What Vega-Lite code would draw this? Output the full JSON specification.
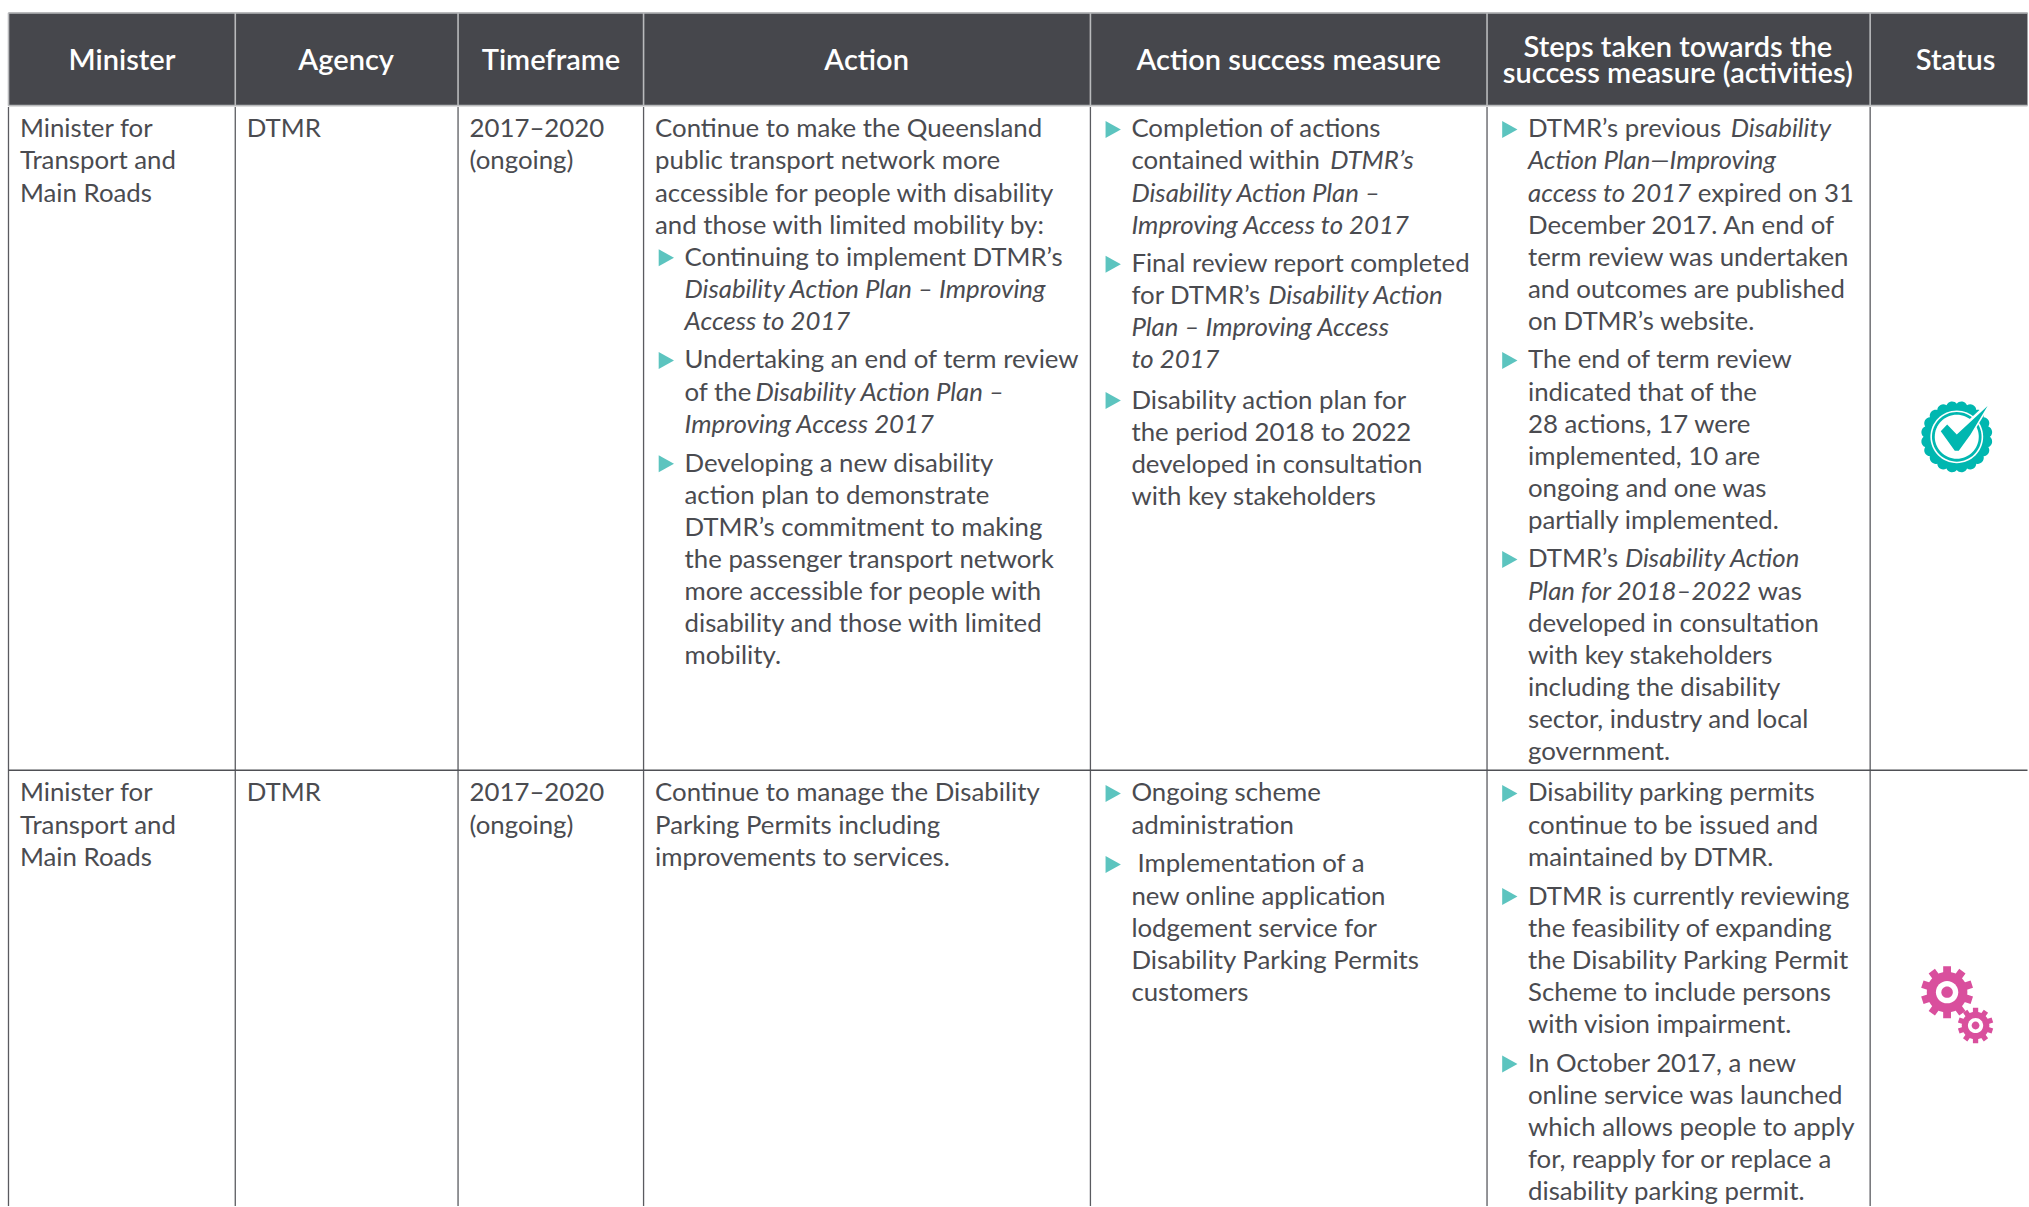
{"$schema":"https://vega.github.io/schema/vega-lite/v6.json","width":2029,"height":1207,"autosize":{"type":"fit","contains":"padding"},"padding":0,"background":"white","config":{"view":{"stroke":null},"axis":{"disable":true}},
"datasets":{"columns":[{"col":"Minister","left":8,"center":121.6},{"col":"Agency","left":235,"center":346},{"col":"Timeframe","left":458,"center":551},{"col":"Action","left":643.7,"center":867},{"col":"Measure","left":1091,"center":1289.5},{"col":"Steps","left":1488,"center":1679},{"col":"Status","left":1871.5,"center":1957}],
"cells":[
{"kind":"head","col":"Minister","tab":"center","line":-2.1,"text":"Minister"},{"kind":"head","col":"Agency","tab":"center","line":-2.1,"text":"Agency"},{"kind":"head","col":"Timeframe","tab":"center","line":-2.1,"text":"Timeframe"},{"kind":"head","col":"Action","tab":"center","line":-2.1,"text":"Action"},{"kind":"head","col":"Measure","tab":"center","line":-2.1,"text":"Action success measure"},{"kind":"head","col":"Steps","tab":"center","line":-2.51,"text":"Steps taken towards the"},{"kind":"head","col":"Steps","tab":"center","line":-1.7,"text":"success measure (activities)"},{"kind":"head","col":"Status","tab":"center","line":-2.1,"text":"Status"},
{"kind":"roman","col":"Minister","tab":"cell","line":0,"text":"Minister for"},{"kind":"roman","col":"Minister","tab":"cell","line":1,"text":"Transport and"},{"kind":"roman","col":"Minister","tab":"cell","line":2,"text":"Main Roads"},
{"kind":"roman","col":"Agency","tab":"cell","line":0,"text":"DTMR"},
{"kind":"roman","col":"Timeframe","tab":"cell","line":0,"text":"2017–2020"},{"kind":"roman","col":"Timeframe","tab":"cell","line":1,"text":"(ongoing)"},
{"kind":"roman","col":"Action","tab":"cell","line":0,"text":"Continue to make the Queensland"},{"kind":"roman","col":"Action","tab":"cell","line":1,"text":"public transport network more"},{"kind":"roman","col":"Action","tab":"cell","line":2,"text":"accessible for people with disability"},{"kind":"roman","col":"Action","tab":"cell","line":3,"text":"and those with limited mobility by:"},
{"kind":"bullet","col":"Action","tab":"bullet","line":4},{"kind":"roman","col":"Action","tab":"text","line":4,"text":"Continuing to implement DTMR’s"},{"kind":"italic","col":"Action","tab":"text","line":5,"text":"Disability Action Plan  – Improving"},{"kind":"italic","col":"Action","tab":"text","line":6,"text":"Access to 2017"},
{"kind":"bullet","col":"Action","tab":"bullet","line":7.2},{"kind":"roman","col":"Action","tab":"text","line":7.2,"text":"Undertaking an end of term review"},{"kind":"roman","col":"Action","tab":"text","line":8.2,"text":"of the"},{"kind":"italic","col":"Action","tab":"text","lead":71,"line":8.2,"text":"Disability Action Plan –"},{"kind":"italic","col":"Action","tab":"text","line":9.2,"text":"Improving Access 2017"},
{"kind":"bullet","col":"Action","tab":"bullet","line":10.42},{"kind":"roman","col":"Action","tab":"text","line":10.42,"text":"Developing a new disability"},{"kind":"roman","col":"Action","tab":"text","line":11.42,"text":"action plan to demonstrate"},{"kind":"roman","col":"Action","tab":"text","line":12.42,"text":"DTMR’s commitment to making"},{"kind":"roman","col":"Action","tab":"text","line":13.42,"text":"the passenger transport network"},{"kind":"roman","col":"Action","tab":"text","line":14.42,"text":"more accessible for people with"},{"kind":"roman","col":"Action","tab":"text","line":15.42,"text":"disability and those with limited"},{"kind":"roman","col":"Action","tab":"text","line":16.42,"text":"mobility."},
{"kind":"bullet","col":"Measure","tab":"bullet","line":0},{"kind":"roman","col":"Measure","tab":"text","line":0,"text":"Completion of actions"},{"kind":"roman","col":"Measure","tab":"text","line":1,"text":"contained within"},{"kind":"italic","col":"Measure","tab":"text","lead":199,"line":1,"text":"DTMR’s"},{"kind":"italic","col":"Measure","tab":"text","line":2,"text":"Disability Action Plan –"},{"kind":"italic","col":"Measure","tab":"text","line":3,"text":"Improving Access to 2017"},
{"kind":"bullet","col":"Measure","tab":"bullet","line":4.2},{"kind":"roman","col":"Measure","tab":"text","line":4.2,"text":"Final review report completed"},{"kind":"roman","col":"Measure","tab":"text","line":5.2,"text":"for DTMR’s"},{"kind":"italic","col":"Measure","tab":"text","lead":137,"line":5.2,"text":"Disability Action"},{"kind":"italic","col":"Measure","tab":"text","line":6.2,"text":"Plan – Improving Access"},{"kind":"italic","col":"Measure","tab":"text","line":7.2,"text":"to 2017"},
{"kind":"bullet","col":"Measure","tab":"bullet","line":8.45},{"kind":"roman","col":"Measure","tab":"text","line":8.45,"text":"Disability action plan for"},{"kind":"roman","col":"Measure","tab":"text","line":9.45,"text":"the period 2018  to 2022"},{"kind":"roman","col":"Measure","tab":"text","line":10.45,"text":"developed in consultation"},{"kind":"roman","col":"Measure","tab":"text","line":11.45,"text":"with key stakeholders"},
{"kind":"bullet","col":"Steps","tab":"bullet","line":0},{"kind":"roman","col":"Steps","tab":"text","line":0,"text":"DTMR’s previous"},{"kind":"italic","col":"Steps","tab":"text","lead":203,"line":0,"text":"Disability"},{"kind":"italic","col":"Steps","tab":"text","line":1,"text":"Action Plan—Improving"},{"kind":"italic","col":"Steps","tab":"text","line":2,"text":"access to 2017"},{"kind":"roman","col":"Steps","tab":"text","lead":170,"line":2,"text":"expired on 31"},{"kind":"roman","col":"Steps","tab":"text","line":3,"text":"December 2017. An end of"},{"kind":"roman","col":"Steps","tab":"text","line":4,"text":"term review was undertaken"},{"kind":"roman","col":"Steps","tab":"text","line":5,"text":"and outcomes are published"},{"kind":"roman","col":"Steps","tab":"text","line":6,"text":"on DTMR’s website."},
{"kind":"bullet","col":"Steps","tab":"bullet","line":7.2},{"kind":"roman","col":"Steps","tab":"text","line":7.2,"text":"The end of term review"},{"kind":"roman","col":"Steps","tab":"text","line":8.2,"text":"indicated that of the"},{"kind":"roman","col":"Steps","tab":"text","line":9.2,"text":"28 actions, 17 were"},{"kind":"roman","col":"Steps","tab":"text","line":10.2,"text":"implemented, 10 are"},{"kind":"roman","col":"Steps","tab":"text","line":11.2,"text":"ongoing and one was"},{"kind":"roman","col":"Steps","tab":"text","line":12.2,"text":"partially implemented."},
{"kind":"bullet","col":"Steps","tab":"bullet","line":13.4},{"kind":"roman","col":"Steps","tab":"text","line":13.4,"text":"DTMR’s"},{"kind":"italic","col":"Steps","tab":"text","lead":97,"line":13.4,"text":"Disability Action"},{"kind":"italic","col":"Steps","tab":"text","line":14.4,"text":"Plan for 2018–2022"},{"kind":"roman","col":"Steps","tab":"text","lead":230,"line":14.4,"text":"was"},{"kind":"roman","col":"Steps","tab":"text","line":15.4,"text":"developed in consultation"},{"kind":"roman","col":"Steps","tab":"text","line":16.4,"text":"with key stakeholders"},{"kind":"roman","col":"Steps","tab":"text","line":17.4,"text":"including the disability"},{"kind":"roman","col":"Steps","tab":"text","line":18.4,"text":"sector, industry and local"},{"kind":"roman","col":"Steps","tab":"text","line":19.4,"text":"government."},
{"kind":"roman","col":"Minister","tab":"cell","line":20.69,"text":"Minister for"},{"kind":"roman","col":"Minister","tab":"cell","line":21.69,"text":"Transport and"},{"kind":"roman","col":"Minister","tab":"cell","line":22.69,"text":"Main Roads"},
{"kind":"roman","col":"Agency","tab":"cell","line":20.69,"text":"DTMR"},
{"kind":"roman","col":"Timeframe","tab":"cell","line":20.69,"text":"2017–2020"},{"kind":"roman","col":"Timeframe","tab":"cell","line":21.69,"text":"(ongoing)"},
{"kind":"roman","col":"Action","tab":"cell","line":20.69,"text":"Continue to manage the Disability"},{"kind":"roman","col":"Action","tab":"cell","line":21.69,"text":"Parking Permits including"},{"kind":"roman","col":"Action","tab":"cell","line":22.69,"text":"improvements to services."},
{"kind":"bullet","col":"Measure","tab":"bullet","line":20.69},{"kind":"roman","col":"Measure","tab":"text","line":20.69,"text":"Ongoing scheme"},{"kind":"roman","col":"Measure","tab":"text","line":21.69,"text":"administration"},
{"kind":"bullet","col":"Measure","tab":"bullet","line":22.9},{"kind":"roman","col":"Measure","tab":"text","lead":6,"line":22.9,"text":"Implementation of a"},{"kind":"roman","col":"Measure","tab":"text","line":23.9,"text":"new online application"},{"kind":"roman","col":"Measure","tab":"text","line":24.9,"text":"lodgement service for"},{"kind":"roman","col":"Measure","tab":"text","line":25.9,"text":"Disability Parking Permits"},{"kind":"roman","col":"Measure","tab":"text","line":26.9,"text":"customers"},
{"kind":"bullet","col":"Steps","tab":"bullet","line":20.69},{"kind":"roman","col":"Steps","tab":"text","line":20.69,"text":"Disability parking permits"},{"kind":"roman","col":"Steps","tab":"text","line":21.69,"text":"continue to be issued and"},{"kind":"roman","col":"Steps","tab":"text","line":22.69,"text":"maintained by DTMR."},
{"kind":"bullet","col":"Steps","tab":"bullet","line":23.9},{"kind":"roman","col":"Steps","tab":"text","line":23.9,"text":"DTMR is currently reviewing"},{"kind":"roman","col":"Steps","tab":"text","line":24.9,"text":"the feasibility of expanding"},{"kind":"roman","col":"Steps","tab":"text","line":25.9,"text":"the Disability Parking Permit"},{"kind":"roman","col":"Steps","tab":"text","line":26.9,"text":"Scheme to include persons"},{"kind":"roman","col":"Steps","tab":"text","line":27.9,"text":"with vision impairment."},
{"kind":"bullet","col":"Steps","tab":"bullet","line":29.12},{"kind":"roman","col":"Steps","tab":"text","line":29.12,"text":"In October 2017, a new"},{"kind":"roman","col":"Steps","tab":"text","line":30.12,"text":"online service was launched"},{"kind":"roman","col":"Steps","tab":"text","line":31.12,"text":"which allows people to apply"},{"kind":"roman","col":"Steps","tab":"text","line":32.12,"text":"for, reapply for or replace a"},{"kind":"roman","col":"Steps","tab":"text","line":33.12,"text":"disability parking permit."},
{"kind":"icon","col":"Status","tab":"center","lead":1.2,"line":9.33,"part":"scallop","gauge":"badge"},{"kind":"icon","col":"Status","tab":"center","lead":1.2,"line":9.33,"part":"ring outer","gauge":"badge"},{"kind":"icon","col":"Status","tab":"center","lead":1.2,"line":9.33,"part":"ring inner","gauge":"badge"},{"kind":"icon","col":"Status","tab":"center","lead":1.2,"line":9.33,"part":"face","gauge":"badge"},{"kind":"icon","col":"Status","tab":"center","lead":1.2,"line":9.33,"part":"halo","gauge":"badge"},{"kind":"icon","col":"Status","tab":"center","lead":1.2,"line":9.33,"part":"check","gauge":"badge"},
{"kind":"icon","col":"Status","tab":"center","lead":-8.5,"line":26.63,"part":"teeth","gauge":"big gear"},{"kind":"icon","col":"Status","tab":"center","lead":-8.5,"line":26.63,"part":"body","gauge":"big gear"},{"kind":"icon","col":"Status","tab":"center","lead":-8.5,"line":26.63,"part":"eye","gauge":"big gear"},{"kind":"icon","col":"Status","tab":"center","lead":-8.5,"line":26.63,"part":"hub","gauge":"big gear"},
{"kind":"icon","col":"Status","tab":"center","lead":20,"line":27.67,"part":"teeth","gauge":"small gear"},{"kind":"icon","col":"Status","tab":"center","lead":20,"line":27.67,"part":"body","gauge":"small gear"},{"kind":"icon","col":"Status","tab":"center","lead":20,"line":27.67,"part":"eye","gauge":"small gear"},{"kind":"icon","col":"Status","tab":"center","lead":20,"line":27.67,"part":"hub","gauge":"small gear"}
]},
"data":{"name":"cells"},
"transform":[{"lookup":"col","from":{"data":{"name":"columns"},"key":"col","fields":["left","center"]}},{"calculate":"(datum.tab=='center'?datum.center:datum.tab=='bullet'?datum.left+22.8:datum.tab=='text'?datum.left+41:datum.left+11.5)+(datum.lead||0)","as":"pos"}],
"layer":[
{"data":{"values":[{"band":"header"}]},"transform":[],"mark":{"type":"rect","color":"#46474c"},"encoding":{"x":{"datum":8,"type":"quantitative","scale":{"domain":[-0.5,2028.5],"nice":false,"zero":false}},"x2":{"datum":2029},"y":{"datum":-3.88,"type":"quantitative","scale":{"domain":[-4.28,33.262],"nice":false,"zero":false,"reverse":true}},"y2":{"datum":-0.99}}},
{"data":{"name":"columns"},"transform":[],"mark":{"type":"rule","color":"#b9babc","strokeWidth":1.6},"encoding":{"x":{"field":"left","type":"quantitative"},"y":{"datum":-3.88,"type":"quantitative"},"y2":{"datum":-0.99}}},
{"data":{"name":"columns"},"transform":[],"mark":{"type":"rule","color":"#5a5b60","strokeWidth":1.3},"encoding":{"x":{"field":"left","type":"quantitative"},"y":{"datum":-0.95,"type":"quantitative"},"y2":{"datum":33.29}}},
{"data":{"values":[{"edge":-3.88},{"edge":-0.99}]},"transform":[],"mark":{"type":"rule","color":"#b9babc","strokeWidth":1.6},"encoding":{"x":{"datum":8,"type":"quantitative"},"x2":{"datum":2029},"y":{"field":"edge","type":"quantitative"}}},
{"data":{"values":[{"edge":19.72}]},"transform":[],"mark":{"type":"rule","color":"#4f5055","strokeWidth":1.5},"encoding":{"x":{"datum":8,"type":"quantitative"},"x2":{"datum":2029},"y":{"field":"edge","type":"quantitative"}}},
{"transform":[{"filter":"datum.kind=='head'"}],"mark":{"type":"text","font":"Lato","fontSize":29,"fontWeight":600,"align":"center","baseline":"alphabetic","color":"white"},"encoding":{"x":{"field":"pos","type":"quantitative"},"y":{"field":"line","type":"quantitative"},"text":{"field":"text"}}},
{"transform":[{"filter":"datum.kind=='roman'"}],"mark":{"type":"text","font":"Lato","fontSize":25.8,"align":"left","baseline":"alphabetic","color":"#4a4b50"},"encoding":{"x":{"field":"pos","type":"quantitative"},"y":{"field":"line","type":"quantitative"},"text":{"field":"text"}}},
{"transform":[{"filter":"datum.kind=='italic'"}],"mark":{"type":"text","font":"Lato","fontSize":25.8,"fontStyle":"italic","align":"left","baseline":"alphabetic","color":"#4a4b50"},"encoding":{"x":{"field":"pos","type":"quantitative"},"y":{"field":"line","type":"quantitative"},"text":{"field":"text"}}},
{"transform":[{"filter":"datum.kind=='bullet'"}],"mark":{"type":"point","shape":"M-0.9,-1L0.9,0L-0.9,1Z","filled":true,"size":289,"opacity":1,"color":"#5cc4bf","strokeWidth":0,"yOffset":-8},"encoding":{"x":{"field":"pos","type":"quantitative"},"y":{"field":"line","type":"quantitative"}}},
{"transform":[{"filter":"datum.kind=='icon'"}],"mark":{"type":"point","filled":true,"opacity":1,"strokeWidth":0},"encoding":{"x":{"field":"pos","type":"quantitative"},"y":{"field":"line","type":"quantitative"},
"shape":{"field":"part","type":"nominal","legend":null,"scale":{"domain":["scallop","ring outer","ring inner","face","halo","check","teeth","body","eye","hub"],"range":[
"M.83,0A.15,.15 0 0 1 .789,.256A.15,.15 0 0 1 .671,.488A.15,.15 0 0 1 .488,.671A.15,.15 0 0 1 .256,.789A.15,.15 0 0 1 0,.83A.15,.15 0 0 1 -.256,.789A.15,.15 0 0 1 -.488,.671A.15,.15 0 0 1 -.671,.488A.15,.15 0 0 1 -.789,.256A.15,.15 0 0 1 -.83,0A.15,.15 0 0 1 -.789,-.256A.15,.15 0 0 1 -.671,-.488A.15,.15 0 0 1 -.488,-.671A.15,.15 0 0 1 -.256,-.789A.15,.15 0 0 1 0,-.83A.15,.15 0 0 1 .256,-.789A.15,.15 0 0 1 .488,-.671A.15,.15 0 0 1 .671,-.488A.15,.15 0 0 1 .789,-.256A.15,.15 0 0 1 .83,0Z",
"M-.66,0A.66,.66 0 1 1 .66,0A.66,.66 0 1 1 -.66,0Z",
"M-.62,0A.62,.62 0 1 1 .62,0A.62,.62 0 1 1 -.62,0Z",
"M-.55,0A.55,.55 0 1 1 .55,0A.55,.55 0 1 1 -.55,0Z",
"M0,-.14L.62,-.72L.86,-.84L.2,.25Z",
"M-.24,-.31L0,-.06L.77,-.77L.34,-.05L.05,.35L-.05,.35L-.40,-.14Z",
"M-.15,1L.15,1L.15,-1L-.15,-1ZM.467,.897L.709,.721L-.467,-.897L-.709,-.721ZM.905,.452L.997,.166L-.905,-.452L-.997,-.166ZM.997,-.166L.905,-.452L-.997,.166L-.905,.452ZM.709,-.721L.467,-.897L-.709,.721L-.467,.897Z",
"M-.78,0A.78,.78 0 1 1 .78,0A.78,.78 0 1 1 -.78,0Z",
"M-.43,0A.43,.43 0 1 1 .43,0A.43,.43 0 1 1 -.43,0Z",
"M-.22,0A.22,.22 0 1 1 .22,0A.22,.22 0 1 1 -.22,0Z"]}},
"color":{"field":"part","type":"nominal","legend":null,"scale":{"domain":["scallop","ring outer","ring inner","face","halo","check","teeth","body","eye","hub"],"range":["#00b7b0","#ffffff","#00b7b0","#ffffff","#ffffff","#00b7b0","#d94f9d","#d94f9d","#ffffff","#d94f9d"]}},
"size":{"field":"gauge","type":"nominal","legend":null,"scale":{"type":"ordinal","domain":["badge","big gear","small gear"],"range":[6400,2704,1253]}}}}
]}
